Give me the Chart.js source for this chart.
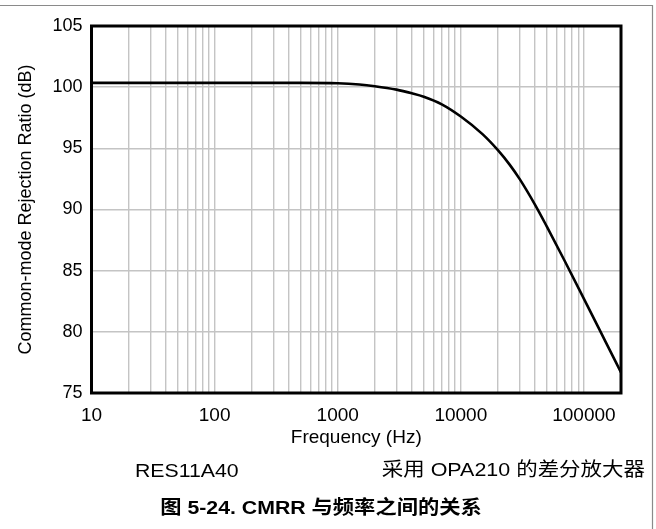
<!DOCTYPE html>
<html>
<head>
<meta charset="utf-8">
<script src="https://cdn.jsdelivr.net/npm/chart.js@4/dist/chart.umd.min.js"></script>
<style>
  html, body { margin: 0; padding: 0; background: #fff; }
  canvas { display: block; }
</style>
</head>
<body>
<canvas id="cmrr" width="656" height="529"></canvas>
<script>
// CMRR of the RES11A40 difference amplifier (OPA210) versus frequency
const frequencies = [10, 20, 50, 100, 200, 500, 1000, 1500, 2000, 3000, 4000, 5000, 7000,
  10000, 15000, 20000, 25000, 30000, 40000, 50000, 70000, 100000, 150000, 200000];
const cmrrDb = [100.35, 100.35, 100.35, 100.35, 100.35, 100.35, 100.32, 100.22, 100.08, 99.8, 99.5, 99.22, 98.6,
  97.6, 96.16, 94.85, 93.65, 92.5, 90.4, 88.6, 85.77, 82.7, 79.18, 76.68];

const yTickValues = [75, 80, 85, 90, 95, 100, 105];
const xLabelValues = [10, 100, 1000, 10000, 100000];
const xGridValues = [
  10, 20, 30, 40, 50, 60, 70, 80, 90,
  100, 200, 300, 400, 500, 600, 700, 800, 900,
  1000, 2000, 3000, 4000, 5000, 6000, 7000, 8000, 9000,
  10000, 20000, 30000, 40000, 50000, 60000, 70000, 80000, 90000,
  100000, 200000
];

const xTitle = 'Frequency (Hz)';
const yTitle = 'Common-mode Rejection Ratio (dB)';
const deviceName = 'RES11A40';
const circuitName = '采用 OPA210 的差分放大器';
const figureCaption = '图 5-24. CMRR 与频率之间的关系';

const FONT = '"Liberation Sans", Arial, "Noto Sans CJK SC", sans-serif';

// thin page frame (top and right edges)
const pageFrame = {
  id: 'pageFrame',
  beforeDraw(chart) {
    const ctx = chart.ctx;
    ctx.save();
    ctx.strokeStyle = '#8a8a8a';
    ctx.lineWidth = 1.2;
    ctx.beginPath();
    ctx.moveTo(0, 5.5);
    ctx.lineTo(652.5, 5.5);
    ctx.lineTo(652.5, chart.height);
    ctx.stroke();
    ctx.restore();
  }
};

// heavy box around the plotting area
const plotBox = {
  id: 'plotBox',
  afterDatasetsDraw(chart) {
    const {ctx, chartArea: a} = chart;
    ctx.save();
    ctx.strokeStyle = '#000';
    ctx.lineWidth = 3;
    ctx.strokeRect(a.left, a.top, a.right - a.left, a.bottom - a.top);
    ctx.restore();
  }
};

// draws one line of slightly wide text anchored at (x, y)
function wideText(ctx, text, x, y, align, font, stretch) {
  ctx.save();
  ctx.font = font;
  ctx.textAlign = align;
  ctx.textBaseline = 'middle';
  ctx.translate(x, y);
  ctx.scale(stretch, 1);
  ctx.fillText(text, 0, 0);
  ctx.restore();
}

// labels under the axis: device, circuit and figure caption
const captions = {
  id: 'captions',
  afterDraw(chart) {
    const ctx = chart.ctx;
    ctx.fillStyle = '#000';
    wideText(ctx, deviceName, 135, 472, 'left', '19px ' + FONT, 1.12);
    wideText(ctx, circuitName, 645, 471, 'right', '19px ' + FONT, 1.13);
    wideText(ctx, figureCaption, 321, 509, 'center', 'bold 19px ' + FONT, 1.12);
  }
};

new Chart(document.getElementById('cmrr'), {
  type: 'line',
  data: {
    datasets: [{
      data: frequencies.map((f, i) => ({x: f, y: cmrrDb[i]})),
      borderColor: '#000',
      borderWidth: 2.6,
      pointRadius: 0,
      fill: false,
      cubicInterpolationMode: 'monotone'
    }]
  },
  options: {
    responsive: false,
    animation: false,
    devicePixelRatio: 1,
    layout: { padding: { top: 26, right: 35, bottom: 76, left: 0 } },
    plugins: { legend: { display: false }, tooltip: { enabled: false } },
    scales: {
      x: {
        type: 'logarithmic',
        min: 10,
        max: 200000,
        afterBuildTicks: s => { s.ticks = xGridValues.map(v => ({value: v})); },
        afterFit: s => { s.height = 60; },
        ticks: {
          autoSkip: false,
          maxRotation: 0,
          padding: 11,
          color: '#000',
          font: { family: FONT, size: 19 },
          callback: v => xLabelValues.includes(v) ? String(v) : ''
        },
        grid: { color: '#c4c4c4', lineWidth: 1.4, drawTicks: false },
        border: { display: false },
        title: {
          display: true,
          text: xTitle,
          color: '#000',
          font: { family: FONT, size: 19 },
          padding: { top: 0, bottom: 4 }
        }
      },
      y: {
        min: 75,
        max: 105,
        afterBuildTicks: s => { s.ticks = yTickValues.map(v => ({value: v})); },
        afterFit: s => { s.width = 91.5; },
        ticks: {
          padding: 9,
          color: '#000',
          font: { family: FONT, size: 18 }
        },
        grid: { color: '#c4c4c4', lineWidth: 1.4, drawTicks: false },
        border: { display: false },
        title: {
          display: true,
          text: yTitle,
          color: '#000',
          font: { family: FONT, size: 18 },
          padding: { top: 15, bottom: 0 }
        }
      }
    }
  },
  plugins: [pageFrame, plotBox, captions]
});
</script>
</body>
</html>
